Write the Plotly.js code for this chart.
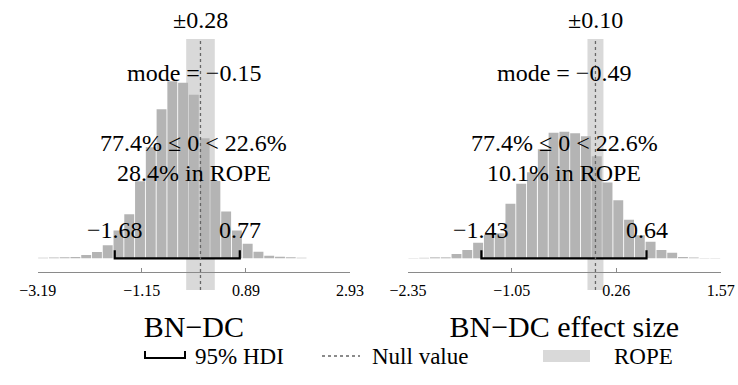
<!DOCTYPE html>
<html><head><meta charset="utf-8">
<script src="https://cdn.plot.ly/plotly-3.0.1.min.js"></script>
<style>html,body{margin:0;padding:0;background:#fff}</style>
</head><body><div id="chart" style="width:738px;height:385px"></div>
<script>
// ---- data (percent of posterior samples per histogram bin) ----
const leftCenters = [-3.084,-2.873,-2.662,-2.451,-2.240,-2.029,-1.818,-1.607,-1.396,-1.185,-0.974,-0.763,-0.552,-0.341,-0.130,0.081,0.292,0.503,0.714,0.925,1.136,1.347,1.558,1.769,1.980,2.191,2.402,2.613,2.824];
const leftPct = [0.04,0.06,0.08,0.10,0.26,0.50,1.04,2.22,3.52,6.16,8.89,11.93,14.17,14.05,13.09,9.61,6.19,3.74,2.22,1.16,0.52,0.20,0.12,0.08,0.05,0,0,0,0];
const rightCenters = [-2.282,-2.147,-2.012,-1.877,-1.742,-1.607,-1.471,-1.336,-1.201,-1.066,-0.931,-0.796,-0.660,-0.525,-0.390,-0.255,-0.120,0.016,0.151,0.286,0.421,0.556,0.691,0.827,0.962,1.097,1.232,1.367,1.502];
const rightPct = [0.02,0.04,0.08,0.08,0.35,0.67,1.26,1.91,2.03,4.42,6.04,6.98,8.84,10.18,10.26,10.14,9.90,8.27,6.14,4.72,3.12,1.87,1.34,0.67,0.46,0.11,0.06,0.02,0.02];

const panelTitles = ['BN−DC', 'BN−DC effect size'];
const axisRanges = [[-3.19, 2.93], [-2.35, 1.57]];
const tickVals = [[-3.19, -1.15, 0.89, 2.93], [-2.35, -1.05, 0.26, 1.57]];
const tickText = [['−3.19', '−1.15', '0.89', '2.93'], ['−2.35', '−1.05', '0.26', '1.57']];
const hdiLow = [-1.68, -1.43];
const hdiHigh = [0.77, 0.64];
const hdiLowText = ['−1.68', '−1.43'];
const hdiHighText = ['0.77', '0.64'];
const ropeHalf = [0.28, 0.10];
const ropeText = ['±0.28', '±0.10'];
const modeText = ['mode = −0.15', 'mode = −0.49'];
const signText = ['77.4% ≤ 0 < 22.6%', '77.4% ≤ 0 < 22.6%'];
const ropePctText = ['28.4% in ROPE', '10.1% in ROPE'];
const nullValue = 0;
const legendText = ['95% HDI', 'Null value', 'ROPE'];

// ---- styling / layout helpers ----
const W = 738, H = 385;
const FONT = '"Liberation Serif", "Times New Roman", serif';
const px = v => v / W;          // horizontal pixel -> paper
const py = v => 1 - v / H;      // vertical pixel -> paper
const BAR = '#b4b4b4', ROPE = '#d9d9d9', NULLC = '#666666', AXC = '#8a8a8a';
const xDomains = [[px(37.7), px(350)], [px(408), px(720.7)]];
const yDomain = [py(290), py(39)];
const yRanges = [[-2.54, 17.56], [-2.57, 17.79]];
const capH = [0.64, 0.65];

const series = [[leftCenters, leftPct], [rightCenters, rightPct]];
const traces = [];
const shapes = [];
const annotations = [];
const layout = {
  width: W, height: H, margin: {l: 0, r: 0, t: 0, b: 0},
  paper_bgcolor: '#fff', plot_bgcolor: 'rgba(0,0,0,0)',
  showlegend: false, bargap: 0.08, font: {family: FONT, color: '#000'}
};

[0, 1].forEach(i => {
  const xa = i === 0 ? 'x' : 'x2', ya = i === 0 ? 'y' : 'y2';
  const xk = i === 0 ? 'xaxis' : 'xaxis2', yk = i === 0 ? 'yaxis' : 'yaxis2';
  traces.push({type: 'bar', x: series[i][0], y: series[i][1], xaxis: xa, yaxis: ya,
    marker: {color: BAR, line: {width: 0}}, hoverinfo: 'x+y'});
  traces.push({type: 'scatter', mode: 'lines', xaxis: xa, yaxis: ya,
    x: [hdiLow[i], hdiLow[i], hdiHigh[i], hdiHigh[i]], y: [capH[i], 0, 0, capH[i]],
    line: {color: '#000', width: 2.2}, hoverinfo: 'skip'});
  layout[xk] = {domain: xDomains[i], anchor: 'free', position: py(271.7), range: axisRanges[i],
    tickvals: tickVals[i], ticktext: tickText[i], ticks: 'inside', ticklen: 4, tickwidth: 1,
    tickcolor: AXC, showline: true, linecolor: AXC, linewidth: 1, showgrid: false, zeroline: false,
    ticklabelstandoff: 4,
    tickfont: {family: FONT, size: 16, color: '#000'},
    title: {text: panelTitles[i], font: {family: FONT, size: 30, color: '#000'}, standoff: 18}};
  layout[yk] = {domain: yDomain, range: yRanges[i], visible: false, anchor: xa, fixedrange: true};
  shapes.push({type: 'rect', xref: xa, yref: ya + ' domain', x0: nullValue - ropeHalf[i], x1: nullValue + ropeHalf[i],
    y0: 0, y1: 1, fillcolor: ROPE, line: {width: 0}, layer: 'below'});
  shapes.push({type: 'line', xref: xa, yref: ya + ' domain', x0: nullValue, x1: nullValue, y0: 0, y1: 1,
    line: {color: NULLC, width: 1.3, dash: 'dot'}, layer: 'above'});
  const txt = (t, x, xref, y) => annotations.push({text: t, x: x, xref: xref, y: py(y), yref: 'paper',
    xanchor: 'center', yanchor: 'middle', showarrow: false, font: {family: FONT, size: 24, color: '#000'}});
  txt(ropeText[i], nullValue, xa, 20);
  txt(modeText[i], 0.5, xa + ' domain', 73);
  txt(signText[i], 0.5, xa + ' domain', 143);
  txt(ropePctText[i], 0.5, xa + ' domain', 173);
  txt(hdiLowText[i], hdiLow[i], xa, 230);
  txt(hdiHighText[i], hdiHigh[i], xa, 230);
});

// ---- legend row ----
const LY = 356;
shapes.push({type: 'path', xref: 'paper', yref: 'paper',
  path: `M ${px(145)},${py(LY - 5)} L ${px(145)},${py(LY + 2)} L ${px(185)},${py(LY + 2)} L ${px(185)},${py(LY - 5)}`,
  line: {color: '#000', width: 2}});
shapes.push({type: 'line', xref: 'paper', yref: 'paper', x0: px(322), x1: px(360), y0: py(LY), y1: py(LY),
  line: {color: NULLC, width: 1.3, dash: 'dot'}});
shapes.push({type: 'rect', xref: 'paper', yref: 'paper', x0: px(543), x1: px(590), y0: py(LY + 6), y1: py(LY - 6),
  fillcolor: ROPE, line: {width: 0}});
[[193, legendText[0]], [370, legendText[1]], [612, legendText[2]]].forEach(([x, t]) =>
  annotations.push({text: t, x: px(x), xref: 'paper', y: py(LY), yref: 'paper', xanchor: 'left', yanchor: 'middle',
    showarrow: false, font: {family: FONT, size: 23, color: '#000'}}));

layout.shapes = shapes;
layout.annotations = annotations;
Plotly.newPlot('chart', traces, layout, {displayModeBar: false, staticPlot: true});
</script></body></html>
